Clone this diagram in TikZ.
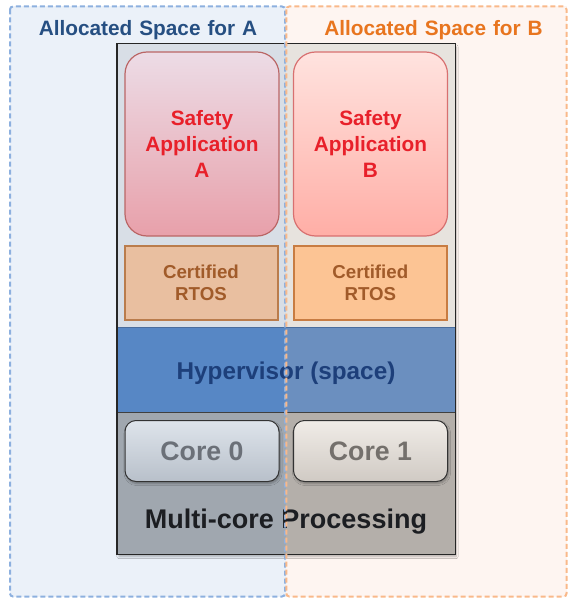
\documentclass[tikz,border=0pt]{standalone}
\usepackage{fontspec}
\setmainfont{Liberation Sans}
\usetikzlibrary{shadows.blur}

\definecolor{spaceAbg}{HTML}{EBF1F9}
\definecolor{spaceBbg}{HTML}{FEF5F1}
\definecolor{spaceAline}{HTML}{8DB0DF}
\definecolor{spaceBline}{HTML}{F9B98A}
\definecolor{titleA}{HTML}{264F82}
\definecolor{titleB}{HTML}{E8751F}
\definecolor{topA}{HTML}{D8DEE6}
\definecolor{topB}{HTML}{E7E3DE}
\definecolor{hypA}{HTML}{5787C5}
\definecolor{hypB}{HTML}{6B8FBF}
\definecolor{hypline}{HTML}{4A6D9D}
\definecolor{hyptext}{HTML}{1D3F7A}
\definecolor{baseA}{HTML}{A0A7AF}
\definecolor{baseB}{HTML}{B4AFAA}
\definecolor{apptext}{HTML}{E8202A}
\definecolor{rtostext}{HTML}{A15B2A}
\definecolor{coretext}{HTML}{6B7078}
\definecolor{multitext}{HTML}{1C1E22}

\tikzset{
  appbox/.style={rounded corners=22pt, draw, line width=1.2pt,
    minimum width=154pt, minimum height=184pt, inner sep=0pt, align=center,
    text=apptext, font=\bfseries\fontsize{20.8}{26.3}\selectfont},
  rtosbox/.style={draw, line width=2pt, minimum width=153pt, minimum height=74pt,
    inner sep=0pt, align=center, text=rtostext,
    font=\bfseries\fontsize{18.7}{22}\selectfont},
  corebox/.style={rounded corners=11pt, draw=black!80, line width=1pt,
    minimum width=154pt, minimum height=61pt, inner sep=0pt,
    font=\bfseries\fontsize{26.7}{30}\selectfont,
    blur shadow={shadow xshift=1pt, shadow yshift=-2pt, shadow opacity=30, shadow blur steps=6}},
  title/.style={anchor=base, font=\bfseries\fontsize{20.8}{24}\selectfont},
  spaceframe/.style={rounded corners=3pt, dash pattern=on 5pt off 3pt, line width=2pt},
}

\begin{document}
\begin{tikzpicture}[x=1pt,y=-1pt]
\useasboundingbox (0,0) rectangle (568,599);

% allocated spaces: background tint
\fill[spaceAbg] (10,6.5) rectangle (285.5,596.5);
\fill[spaceBbg] (285.5,6.5) rectangle (566.5,596.5);

% processing stack frame with its shadow
\node[draw=black!85, line width=1.2pt, minimum width=337pt, minimum height=509.5pt,
      inner sep=0pt,
      blur shadow={shadow xshift=1.5pt, shadow yshift=-2.5pt, shadow opacity=30, shadow blur steps=6}]
      (stack) at (286,299.25) {};

% stack sections, split between the two spaces
\fill[topA]  (117.5,44.5)  rectangle (285.5,327.7);
\fill[topB]  (285.5,44.5)  rectangle (454.5,327.7);
\fill[hypA]  (117.5,327.7) rectangle (285.5,412.7);
\fill[hypB]  (285.5,327.7) rectangle (454.5,412.7);
\fill[baseA] (117.5,412.7) rectangle (285.5,554);
\fill[baseB] (285.5,412.7) rectangle (454.5,554);
\draw[hypline, line width=1.5pt] (117.5,327.7) -- (454.5,327.7);
\draw[black!75, line width=1.2pt] (117.5,412.7) -- (454.5,412.7);
\draw[black!85, line width=1.2pt] (stack.north west) rectangle (stack.south east);

% applications
\node[appbox, draw=red!55!black!60, top color={rgb,255:red,236;green,220;blue,230},
      bottom color={rgb,255:red,232;green,160;blue,170}]
      (appA) at (202,144) {Safety\\Application\\A};
\node[appbox, draw={rgb,255:red,216;green,112;blue,112}, top color={rgb,255:red,255;green,227;blue,223},
      bottom color={rgb,255:red,255;green,174;blue,166}]
      (appB) at (370.5,144) {Safety\\Application\\B};

% operating systems
\node[rtosbox, draw={rgb,255:red,186;green,124;blue,76}, fill={rgb,255:red,233;green,191;blue,160}]
      (rtosA) at (201,283.2) {Certified\\RTOS};
\node[rtosbox, draw={rgb,255:red,200;green,124;blue,66}, fill={rgb,255:red,252;green,196;blue,148}]
      (rtosB) at (370.3,283.2) {Certified\\RTOS};

% hypervisor label
\node[anchor=base, text=hyptext, font=\bfseries\fontsize{24.3}{28}\selectfont]
      (hyp) at (286,379) {Hypervisor (space)};

% cores
\node[corebox, text=coretext, top color={rgb,255:red,222;green,228;blue,235},
      bottom color={rgb,255:red,184;green,192;blue,202}]
      (core0) at (202,451) {Core 0};
\node[corebox, text={rgb,255:red,116;green,112;blue,108}, top color={rgb,255:red,240;green,236;blue,231},
      bottom color={rgb,255:red,208;green,202;blue,196}]
      (core1) at (370.5,451) {Core 1};

\node[anchor=base, text=multitext, font=\bfseries\fontsize{27}{30}\selectfont]
      (multi) at (286,528) {Multi-core Processing};

% allocated spaces: dashed borders and titles
\draw[spaceframe, spaceAline] (10,6.5) rectangle (285,596.5);
\draw[spaceframe, spaceBline] (286.3,6.5) rectangle (566.5,596.5);
\node[title, text=titleA] (titA) at (148,36) {Allocated\,\,Space\,\,for\,\,A};
\node[title, text=titleB] (titB) at (433.5,36) {Allocated\,\,Space\,\,for\,\,B};
\end{tikzpicture}
\end{document}
